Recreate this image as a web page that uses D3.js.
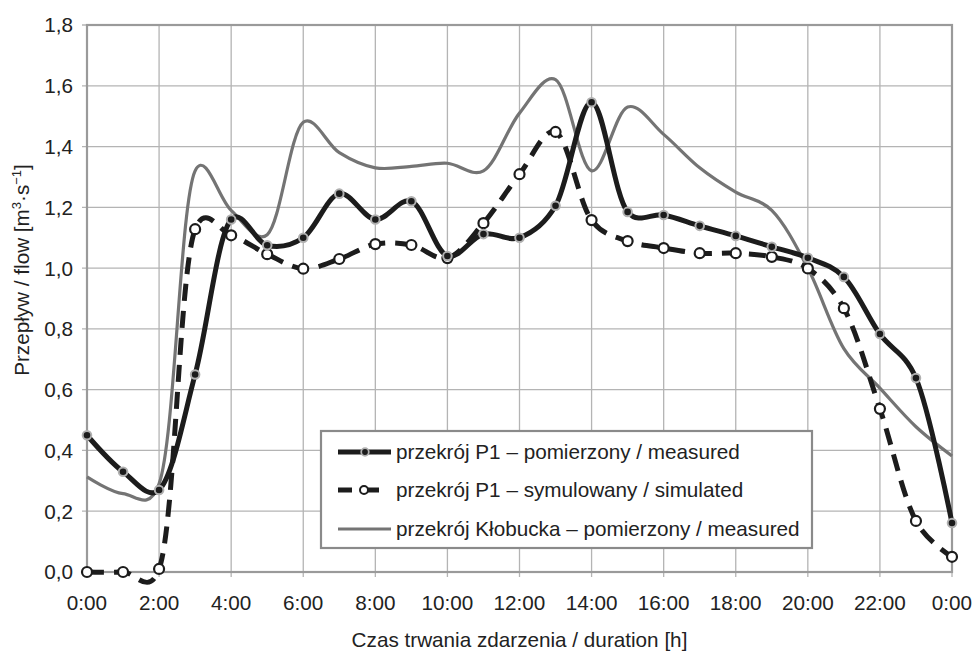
<!DOCTYPE html>
<html>
<head>
<meta charset="utf-8">
<script src="https://cdn.jsdelivr.net/npm/d3@7"></script>
<style>
  html, body { margin: 0; padding: 0; background: #fff; }
  svg text { font-family: "Liberation Sans", Arial, sans-serif; fill: #222; }
</style>
</head>
<body>
<svg id="chart" width="973" height="651"></svg>
<script>
// hours 0..24
const hours = d3.range(0, 25);
const xTickLabels = ["0:00", "2:00", "4:00", "6:00", "8:00", "10:00", "12:00",
  "14:00", "16:00", "18:00", "20:00", "22:00", "0:00"];
const yTicks = [0, 0.2, 0.4, 0.6, 0.8, 1.0, 1.2, 1.4, 1.6, 1.8];

// przekrój P1 – pomierzony / measured
const p1Measured = [0.45, 0.33, 0.27, 0.65, 1.16, 1.075, 1.10, 1.245, 1.16, 1.22, 1.04,
  1.112, 1.10, 1.205, 1.546, 1.185, 1.175, 1.139, 1.106, 1.07, 1.034, 0.971, 0.783, 0.638, 0.161];
// przekrój P1 – symulowany / simulated
const p1Simulated = [0.0, 0.0, 0.01, 1.128, 1.108, 1.046, 0.998, 1.03, 1.079, 1.076, 1.033,
  1.148, 1.309, 1.448, 1.158, 1.089, 1.066, 1.049, 1.049, 1.037, 0.999, 0.868, 0.537, 0.168, 0.05];
// przekrój Kłobucka – pomierzony / measured
const klobucka = [0.313, 0.258, 0.29, 1.32, 1.19, 1.11, 1.48, 1.38, 1.33, 1.335, 1.345,
  1.32, 1.51, 1.62, 1.32, 1.53, 1.44, 1.33, 1.25, 1.19, 1.0, 0.735, 0.605, 0.478, 0.382];

const legendLabels = [
  "przekrój P1 – pomierzony / measured",
  "przekrój P1 – symulowany / simulated",
  "przekrój Kłobucka – pomierzony / measured"
];

const svg = d3.select("#chart");
const margin = { left: 87, right: 21, top: 25, bottom: 79 };
const width = 973, height = 651;
const fontSize = 20.7;

const x = d3.scaleLinear().domain([0, 24]).range([margin.left, width - margin.right]);
const y = d3.scaleLinear().domain([0, 1.8]).range([height - margin.bottom, margin.top]);

const gridColor = "#b4b4b4";
const dark = "#1c1c1c";
const grey = "#747474";

// grid
const grid = svg.append("g");
grid.selectAll("line.v")
  .data(d3.range(0, 25, 2))
  .join("line")
  .attr("x1", d => x(d)).attr("x2", d => x(d))
  .attr("y1", y(1.8)).attr("y2", y(0) + 5)
  .attr("stroke", gridColor).attr("stroke-width", 1.3);
grid.selectAll("line.h")
  .data(yTicks)
  .join("line")
  .attr("x1", x(0) - 5).attr("x2", x(24))
  .attr("y1", d => y(d)).attr("y2", d => y(d))
  .attr("stroke", gridColor).attr("stroke-width", 1.3);

// plot frame
svg.append("rect")
  .attr("x", x(0)).attr("y", y(1.8))
  .attr("width", x(24) - x(0)).attr("height", y(0) - y(1.8))
  .attr("fill", "none").attr("stroke", "#9a9a9a").attr("stroke-width", 2.2);

// axes labels
const fmt = d3.format(".1f");
svg.append("g").selectAll("text")
  .data(yTicks)
  .join("text")
  .attr("x", x(0) - 14)
  .attr("y", d => y(d))
  .attr("dy", "0.36em")
  .attr("text-anchor", "end")
  .attr("font-size", fontSize)
  .text(d => fmt(d).replace(".", ","));

svg.append("g").selectAll("text")
  .data(xTickLabels)
  .join("text")
  .attr("x", (d, i) => x(i * 2))
  .attr("y", y(0) + 38)
  .attr("text-anchor", "middle")
  .attr("font-size", fontSize)
  .text(d => d);

svg.append("text")
  .attr("x", (x(0) + x(24)) / 2)
  .attr("y", 647)
  .attr("text-anchor", "middle")
  .attr("font-size", fontSize)
  .text("Czas trwania zdarzenia / duration [h]");

const yl = svg.append("text")
  .attr("transform", "translate(29, 270) rotate(-90)")
  .attr("text-anchor", "middle")
  .attr("font-size", fontSize);
yl.append("tspan").text("Przepływ / flow [m");
yl.append("tspan").attr("font-size", 13).attr("dy", -8).text("3");
yl.append("tspan").attr("dy", 8).text("·s");
yl.append("tspan").attr("font-size", 13).attr("dy", -8).text("−1");
yl.append("tspan").attr("dy", 8).text("]");

// lines (smoothed, like the spreadsheet original)
const line = d3.line()
  .x((d, i) => x(hours[i]))
  .y(d => y(d))
  .curve(d3.curveCatmullRom.alpha(0.2));

const plot = svg.append("g");
plot.append("path")
  .attr("d", line(klobucka))
  .attr("fill", "none").attr("stroke", grey).attr("stroke-width", 3.2);

plot.append("path")
  .attr("d", line(p1Simulated))
  .attr("fill", "none").attr("stroke", dark).attr("stroke-width", 5)
  .attr("stroke-dasharray", "17,10");

plot.append("path")
  .attr("d", line(p1Measured))
  .attr("fill", "none").attr("stroke", dark).attr("stroke-width", 5);

plot.selectAll("circle.sim")
  .data(p1Simulated)
  .join("circle")
  .attr("cx", (d, i) => x(hours[i])).attr("cy", d => y(d))
  .attr("r", 5).attr("fill", "#fff")
  .attr("stroke", dark).attr("stroke-width", 2.2);

plot.selectAll("circle.meas")
  .data(p1Measured)
  .join("circle")
  .attr("cx", (d, i) => x(hours[i])).attr("cy", d => y(d))
  .attr("r", 4.3).attr("fill", dark)
  .attr("stroke", "#b0b0b0").attr("stroke-width", 2);

// legend
const lg = svg.append("g");
lg.append("rect")
  .attr("x", 321).attr("y", 431).attr("width", 491).attr("height", 117)
  .attr("fill", "#fff").attr("stroke", "#8a8a8a").attr("stroke-width", 2.2);

const rowY = [452, 490, 529];
legendLabels.forEach((label, i) => {
  const yy = rowY[i];
  if (i === 0) {
    lg.append("line").attr("x1", 338).attr("x2", 391).attr("y1", yy).attr("y2", yy)
      .attr("stroke", dark).attr("stroke-width", 5);
    lg.append("circle").attr("cx", 365).attr("cy", yy).attr("r", 3.8)
      .attr("fill", dark).attr("stroke", "#b0b0b0").attr("stroke-width", 1.8);
  } else if (i === 1) {
    lg.append("line").attr("x1", 338).attr("x2", 391).attr("y1", yy).attr("y2", yy)
      .attr("stroke", dark).attr("stroke-width", 5).attr("stroke-dasharray", "14,7,0,6,14");
    lg.append("circle").attr("cx", 364).attr("cy", yy).attr("r", 4)
      .attr("fill", "#fff").attr("stroke", dark).attr("stroke-width", 2);
  } else {
    lg.append("line").attr("x1", 338).attr("x2", 391).attr("y1", yy).attr("y2", yy)
      .attr("stroke", grey).attr("stroke-width", 3.2);
  }
  lg.append("text")
    .attr("x", 396).attr("y", yy).attr("dy", "0.36em")
    .attr("font-size", fontSize)
    .text(label);
});
</script>
</body>
</html>
